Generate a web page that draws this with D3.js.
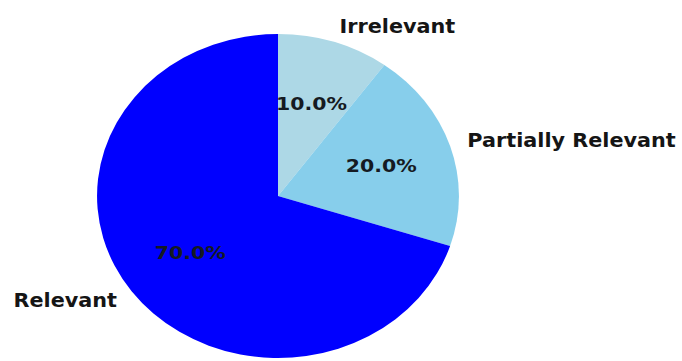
<!DOCTYPE html>
<html>
<head>
<meta charset="utf-8">
<script src="https://cdn.jsdelivr.net/npm/d3@7"></script>
<style>
  html, body { margin: 0; padding: 0; background: #fff; }
  svg { display: block; }
  text { font-family: "DejaVu Sans", sans-serif; font-weight: bold; }
</style>
</head>
<body>
<svg id="chart" width="682" height="361"></svg>
<script>
const categories = ["Irrelevant", "Partially Relevant", "Relevant"];
const values = [10, 20, 70];
const colors = ["#add8e6", "#87ceeb", "#0000ff"];

const W = 682, H = 361;
const cx = 278, cy = 196;
const r = 162;          // vertical radius
const sx = 1.117;       // horizontal stretch of the figure

const svg = d3.select("#chart");
const g = svg.append("g")
  .attr("transform", `translate(${cx},${cy}) scale(${sx},1)`);

const pie = d3.pie().sort(null).value(d => d.value);
const arcs = pie(categories.map((c, i) => ({ name: c, value: values[i], color: colors[i] })));

const arc = d3.arc().innerRadius(0).outerRadius(r);
const pctArc = d3.arc().innerRadius(r * 0.6).outerRadius(r * 0.6);
const labelArc = d3.arc().innerRadius(r * 1.1).outerRadius(r * 1.1);

g.selectAll("path.slice")
  .data(arcs)
  .enter().append("path")
  .attr("class", "slice")
  .attr("d", arc)
  .attr("fill", d => d.data.color);

const total = d3.sum(values);

g.selectAll("text.pct")
  .data(arcs)
  .enter().append("text")
  .attr("class", "pct")
  .attr("transform", d => `translate(${pctArc.centroid(d)})`)
  .attr("text-anchor", "middle")
  .attr("dominant-baseline", "central")
  .attr("font-size", 18.3)
  .attr("fill", "#151a22")
  .text(d => (d.data.value / total * 100).toFixed(1) + "%");

g.selectAll("text.label")
  .data(arcs)
  .enter().append("text")
  .attr("class", "label")
  .attr("transform", d => `translate(${labelArc.centroid(d)})`)
  .attr("text-anchor", d => labelArc.centroid(d)[0] > 0 ? "start" : "end")
  .attr("dominant-baseline", "central")
  .attr("font-size", 18.6)
  .attr("fill", "#151515")
  .text(d => d.data.name);
</script>
</body>
</html>
